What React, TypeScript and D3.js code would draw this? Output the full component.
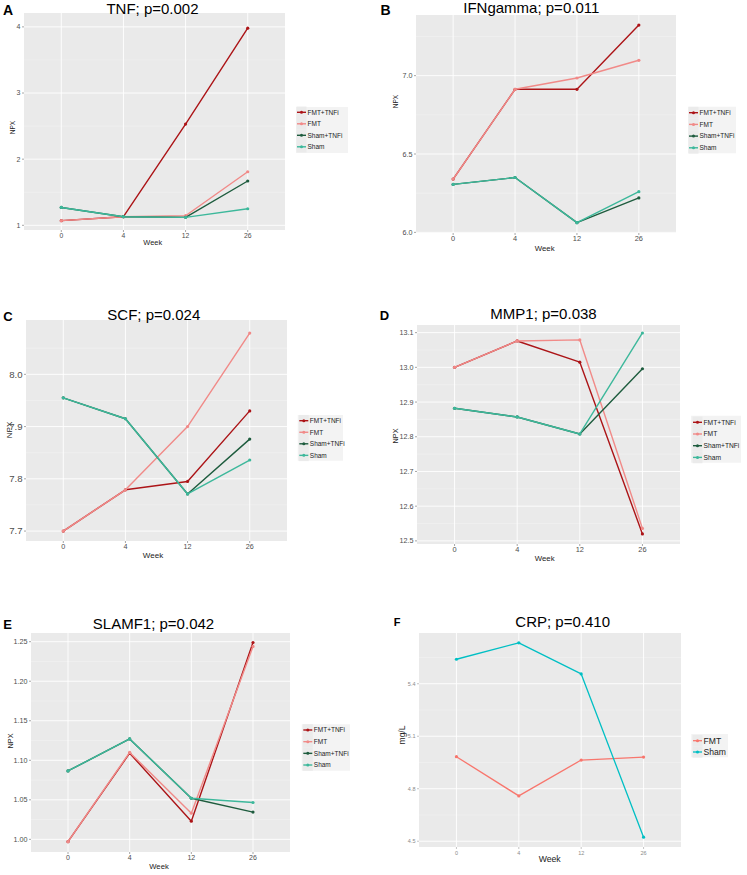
import React from 'react';
import * as d3 from 'd3';

const weeks = ['0', '4', '12', '26'];
const groups4 = ['FMT+TNFi', 'FMT', 'Sham+TNFi', 'Sham'];
const groups2 = ['FMT', 'Sham'];
const colors4 = ['#AC1417', '#F18A88', '#1E5C3E', '#3DB89B'];
const colors2 = ['#F8766D', '#00BFC4'];

// values per group (rows follow groups order), columns follow weeks
const tnfValues = [
  [1.07, 1.13, 2.53, 3.98],
  [1.07, 1.13, 1.145, 1.81],
  [1.27, 1.13, 1.12, 1.67],
  [1.27, 1.13, 1.12, 1.25],
];
const ifnValues = [
  [6.34, 6.913, 6.913, 7.323],
  [6.34, 6.913, 6.985, 7.098],
  [6.306, 6.35, 6.062, 6.22],
  [6.306, 6.35, 6.062, 6.26],
];
const scfValues = [
  [7.7, 7.779, 7.795, 7.93],
  [7.7, 7.779, 7.9, 8.079],
  [7.955, 7.915, 7.771, 7.876],
  [7.955, 7.915, 7.771, 7.836],
];
const mmp1Values = [
  [13.0, 13.076, 13.015, 12.52],
  [13.0, 13.076, 13.079, 12.536],
  [12.882, 12.857, 12.808, 12.996],
  [12.882, 12.857, 12.808, 13.099],
];
const slamf1Values = [
  [0.997, 1.109, 1.023, 1.249],
  [0.997, 1.11, 1.033, 1.244],
  [1.0865, 1.127, 1.052, 1.0345],
  [1.0865, 1.127, 1.052, 1.0466],
];
const crpValues = [
  [4.983, 4.759, 4.964, 4.981],
  [5.54, 5.634, 5.456, 4.523],
];

const tnfTicks = [1, 2, 3, 4];
const ifnTicks = [6.0, 6.5, 7.0];
const scfTicks = [7.7, 7.8, 7.9, 8.0];
const mmp1Ticks = [12.5, 12.6, 12.7, 12.8, 12.9, 13.0, 13.1];
const slamf1Ticks = [1.0, 1.05, 1.1, 1.15, 1.2, 1.25];
const crpTicks = [4.5, 4.8, 5.1, 5.4];

type Panel = {
  letter: string;
  letterPos: [number, number];
  letterSize: number;
  title: string;
  titlePos: [number, number];
  rect: [number, number, number, number];
  yDomain: [number, number];
  yTicks: number[];
  yFmt: string;
  values: number[][];
  groups: string[];
  colors: string[];
  yLabel: string;
  yLabelPos: [number, number];
  yLabelSize: number;
  xLabelPos: [number, number];
  xLabelSize: number;
  xTickSize: number;
  yTickSize: number;
  tickColor: string;
  legend: { x: number; y: number; dy: number; box: [number, number, number, number]; size: number };
  lw: number;
};

const F = '"Liberation Sans", Arial, sans-serif';

const panels: Panel[] = [
  {
    letter: 'A', letterPos: [3, 15], letterSize: 14,
    title: 'TNF; p=0.002', titlePos: [152.5, 13.5],
    rect: [24, 13, 285, 230], yDomain: [0.929, 4.21], yTicks: tnfTicks, yFmt: 'd',
    values: tnfValues, groups: groups4, colors: colors4,
    yLabel: 'NPX', yLabelPos: [15, 127.5], yLabelSize: 6.5,
    xLabelPos: [152.7, 245], xLabelSize: 7.4, xTickSize: 6.8, yTickSize: 7, tickColor: '#4d4d4d',
    legend: { x: 297, y: 112.3, dy: 11.5, box: [296, 107, 348, 153], size: 6.5 }, lw: 1.4,
  },
  {
    letter: 'B', letterPos: [380.5, 15], letterSize: 14,
    title: 'IFNgamma; p=0.011', titlePos: [531.3, 12.7],
    rect: [416, 15, 676, 233], yDomain: [5.996, 7.387], yTicks: ifnTicks, yFmt: '.1f',
    values: ifnValues, groups: groups4, colors: colors4,
    yLabel: 'NPX', yLabelPos: [398, 101.5], yLabelSize: 6.5,
    xLabelPos: [544.7, 251], xLabelSize: 7.8, xTickSize: 7.4, yTickSize: 7.2, tickColor: '#4d4d4d',
    legend: { x: 689, y: 112.7, dy: 11.7, box: [688, 106.7, 736, 153.3], size: 6.5 }, lw: 1.4,
  },
  {
    letter: 'C', letterPos: [3.3, 320.5], letterSize: 13,
    title: 'SCF; p=0.024', titlePos: [153.8, 320],
    rect: [26, 320, 287, 541], yDomain: [7.681, 8.104], yTicks: scfTicks, yFmt: '.1f',
    values: scfValues, groups: groups4, colors: colors4,
    yLabel: 'NPX', yLabelPos: [11.5, 430], yLabelSize: 8,
    xLabelPos: [153, 558], xLabelSize: 8, xTickSize: 7.2, yTickSize: 9.6, tickColor: '#4d4d4d',
    legend: { x: 299.3, y: 420.7, dy: 11.55, box: [297.7, 415, 343, 460.7], size: 6.5 }, lw: 1.4,
  },
  {
    letter: 'D', letterPos: [379.7, 320], letterSize: 13,
    title: 'MMP1; p=0.038', titlePos: [543.5, 319],
    rect: [417, 325, 680, 544], yDomain: [12.491, 13.122], yTicks: mmp1Ticks, yFmt: '.1f',
    values: mmp1Values, groups: groups4, colors: colors4,
    yLabel: 'NPX', yLabelPos: [398.3, 436], yLabelSize: 7.3,
    xLabelPos: [544.7, 561], xLabelSize: 7.8, xTickSize: 7.4, yTickSize: 7.2, tickColor: '#4d4d4d',
    legend: { x: 693, y: 422.3, dy: 11.7, box: [691, 415.7, 741, 462.7], size: 6.7 }, lw: 1.4,
  },
  {
    letter: 'E', letterPos: [3.3, 629], letterSize: 13,
    title: 'SLAMF1; p=0.042', titlePos: [153.5, 629],
    rect: [31, 633, 290, 852], yDomain: [0.984, 1.261], yTicks: slamf1Ticks, yFmt: '.2f',
    values: slamf1Values, groups: groups4, colors: colors4,
    yLabel: 'NPX', yLabelPos: [12.5, 741], yLabelSize: 7.3,
    xLabelPos: [159, 869], xLabelSize: 7.7, xTickSize: 7, yTickSize: 7.2, tickColor: '#4d4d4d',
    legend: { x: 303.3, y: 730, dy: 11.67, box: [301.7, 724.3, 350, 770.7], size: 6.5 }, lw: 1.4,
  },
  {
    letter: 'F', letterPos: [393.7, 625.7], letterSize: 11,
    title: 'CRP; p=0.410', titlePos: [562.7, 627.3],
    rect: [419, 633, 681, 847], yDomain: [4.467, 5.69], yTicks: crpTicks, yFmt: '.1f',
    values: crpValues, groups: groups2, colors: colors2,
    yLabel: 'mg/L', yLabelPos: [405, 735], yLabelSize: 8.5,
    xLabelPos: [549.7, 862], xLabelSize: 8.7, xTickSize: 5.5, yTickSize: 5.5, tickColor: '#8a8a8a',
    legend: { x: 693, y: 740.7, dy: 11.3, box: [691.3, 734, 728, 757.3], size: 8.6 }, lw: 1.3,
  },
];

function PanelView({ p }: { p: Panel }) {
  const [l, t, r, b] = p.rect;
  const x = d3.scalePoint<string>().domain(weeks).range([l, r]).padding(0.6);
  const y = d3.scaleLinear().domain(p.yDomain).range([b, t]);
  const fmt = d3.format(p.yFmt);
  const step = p.yTicks[1] - p.yTicks[0];
  const minor = p.yTicks
    .map((v) => v - step / 2)
    .concat([p.yTicks[p.yTicks.length - 1] + step / 2])
    .filter((v) => v > p.yDomain[0] && v < p.yDomain[1]);
  const line = d3
    .line<number>()
    .x((_, i) => x(weeks[i]) as number)
    .y((v) => y(v));
  const lg = p.legend;
  return (
    <g>
      <rect x={l} y={t} width={r - l} height={b - t} fill="#EAEAEA" />
      {minor.map((v) => (
        <line key={'mi' + v} x1={l} x2={r} y1={y(v)} y2={y(v)} stroke="#F4F4F4" strokeWidth={0.5} />
      ))}
      {p.yTicks.map((v) => (
        <line key={'ma' + v} x1={l} x2={r} y1={y(v)} y2={y(v)} stroke="#FFFFFF" strokeWidth={0.9} />
      ))}
      {weeks.map((w) => (
        <line key={'vx' + w} x1={x(w)} x2={x(w)} y1={t} y2={b} stroke="#FFFFFF" strokeWidth={0.9} />
      ))}
      {p.yTicks.map((v) => (
        <g key={'yt' + v}>
          <line x1={l - 2} x2={l} y1={y(v)} y2={y(v)} stroke={p.tickColor} strokeWidth={0.5} />
          <text x={l - 3.5} y={y(v)} dy="0.35em" textAnchor="end" fontFamily={F} fontSize={p.yTickSize} fill={p.tickColor}>
            {fmt(v)}
          </text>
        </g>
      ))}
      {weeks.map((w) => (
        <g key={'xt' + w}>
          <line x1={x(w)} x2={x(w)} y1={b} y2={b + 2} stroke={p.tickColor} strokeWidth={0.5} />
          <text x={x(w)} y={b + 7.5} textAnchor="middle" fontFamily={F} fontSize={p.xTickSize} fill={p.tickColor}>
            {w}
          </text>
        </g>
      ))}
      <text x={p.xLabelPos[0]} y={p.xLabelPos[1]} textAnchor="middle" fontFamily={F} fontSize={p.xLabelSize} fill="#222">
        Week
      </text>
      <text
        transform={`translate(${p.yLabelPos[0]},${p.yLabelPos[1]}) rotate(-90)`}
        textAnchor="middle"
        fontFamily={F}
        fontSize={p.yLabelSize}
        fill="#222"
      >
        {p.yLabel}
      </text>
      {p.values.map((vals, gi) => (
        <g key={'s' + gi}>
          <path d={line(vals) || ''} fill="none" stroke={p.colors[gi]} strokeWidth={p.lw} strokeLinejoin="round" />
          {vals.map((v, i) => (
            <circle key={i} cx={x(weeks[i])} cy={y(v)} r={1.6} fill={p.colors[gi]} />
          ))}
        </g>
      ))}
      <rect x={lg.box[0]} y={lg.box[1]} width={lg.box[2] - lg.box[0]} height={lg.box[3] - lg.box[1]} fill="#F3F3F3" />
      {p.groups.map((g, gi) => {
        const yy = lg.y + gi * lg.dy;
        return (
          <g key={'lg' + g}>
            <rect x={lg.x - 0.5} y={yy - lg.dy / 2} width={10} height={lg.dy} fill="#EBEBEB" />
            <line x1={lg.x} x2={lg.x + 9} y1={yy} y2={yy} stroke={p.colors[gi]} strokeWidth={p.lw} />
            <circle cx={lg.x + 4.5} cy={yy} r={1.5} fill={p.colors[gi]} />
            <text x={lg.x + 10.5} y={yy} dy="0.35em" fontFamily={F} fontSize={lg.size} fill="#222">
              {g}
            </text>
          </g>
        );
      })}
      <text x={p.titlePos[0]} y={p.titlePos[1]} fontFamily={F} fontSize={15} textAnchor="middle" fill="#000">
        {p.title}
      </text>
      <text x={p.letterPos[0]} y={p.letterPos[1]} fontFamily={F} fontWeight="bold" fontSize={p.letterSize} fill="#000">
        {p.letter}
      </text>
    </g>
  );
}

export default function App() {
  return (
    <svg
      width={747}
      height={875}
      viewBox="0 0 747 875"
      style={{ position: 'absolute', left: 0, top: 0, background: '#fff' }}
    >
      <rect x={0} y={0} width={747} height={875} fill="#fff" />
      {panels.map((p) => (
        <PanelView key={p.letter} p={p} />
      ))}
    </svg>
  );
}
